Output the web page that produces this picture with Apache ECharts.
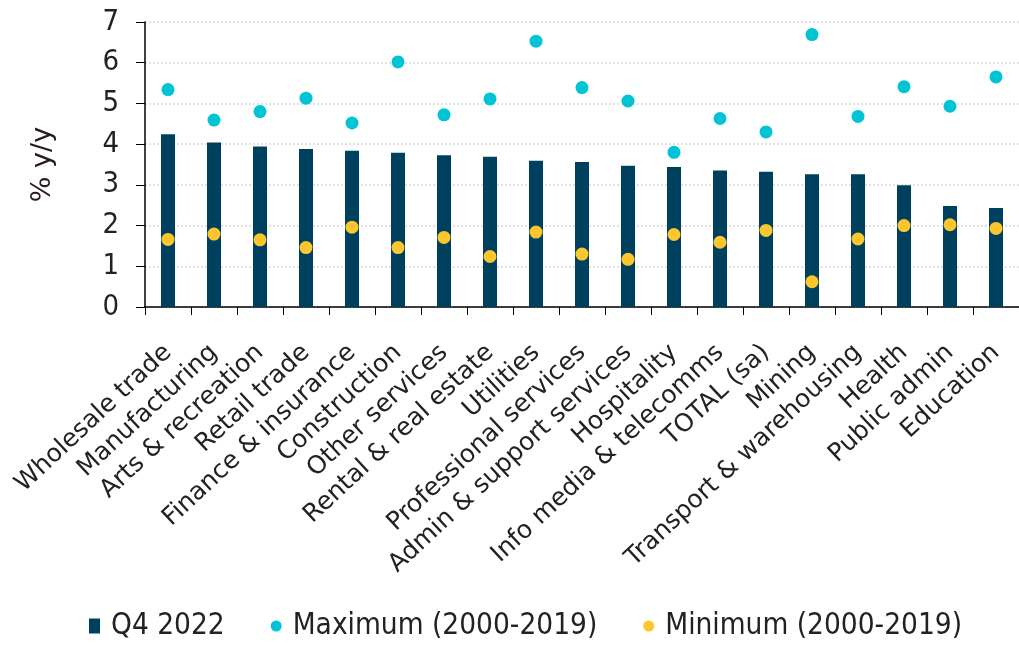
<!DOCTYPE html>
<html>
<head>
<meta charset="utf-8">
<script src="https://cdn.jsdelivr.net/npm/echarts@6/dist/echarts.min.js"></script>
<style>
  html, body { margin: 0; padding: 0; background: #fff; }
  #chart { width: 1019px; height: 650px; }
</style>
</head>
<body>
<div id="chart"></div>
<script>
// Sectors, ordered by Q4 2022 growth
const categories = [
  'Wholesale trade', 'Manufacturing', 'Arts & recreation', 'Retail trade',
  'Finance & insurance', 'Construction', 'Other services', 'Rental & real estate',
  'Utilities', 'Professional services', 'Admin & support services', 'Hospitality',
  'Info media & telecomms', 'TOTAL (sa)', 'Mining', 'Transport & warehousing',
  'Health', 'Public admin', 'Education'
];

// % y/y
const q4_2022 = [4.24, 4.04, 3.94, 3.88, 3.84, 3.79, 3.73, 3.69, 3.59, 3.56,
                 3.47, 3.44, 3.35, 3.32, 3.26, 3.26, 2.99, 2.48, 2.43];
const maximum = [5.34, 4.59, 4.80, 5.13, 4.52, 6.02, 4.72, 5.11, 6.53, 5.39,
                 5.06, 3.80, 4.63, 4.30, 6.69, 4.68, 5.41, 4.93, 5.65];
const minimum = [1.66, 1.79, 1.65, 1.46, 1.96, 1.46, 1.71, 1.24, 1.84, 1.30,
                 1.17, 1.78, 1.59, 1.88, 0.62, 1.67, 2.00, 2.02, 1.93];

const seriesNames = ['Q4 2022', 'Maximum (2000-2019)', 'Minimum (2000-2019)'];
const yTicks = { min: 0, max: 7, interval: 1 };

const FONT = '"DejaVu Sans", Verdana, sans-serif';
const FONT_NARROW = '"DejaVu Sans Condensed", "DejaVu Sans", sans-serif';
const TEXT = '#222222';

const chart = echarts.init(document.getElementById('chart'), null, { renderer: 'canvas' });

chart.setOption({
  backgroundColor: '#ffffff',
  animation: false,
  grid: { left: 145, right: -8, top: 22, bottom: 343, containLabel: false },
  legend: {
    bottom: 4,
    left: 84,
    itemGap: 46,
    itemWidth: 11,
    itemHeight: 15,
    textStyle: { fontFamily: FONT_NARROW, fontSize: 29.5, color: TEXT, padding: [0, 0, 0, 6] },
    data: [
      { name: seriesNames[0], icon: 'rect' },
      { name: seriesNames[1], icon: 'circle' },
      { name: seriesNames[2], icon: 'circle' }
    ]
  },
  xAxis: {
    type: 'category',
    data: categories,
    axisLine: { show: true, lineStyle: { color: '#000', width: 1.5 } },
    axisTick: { show: true, length: 8, lineStyle: { color: '#000' } },
    axisLabel: {
      rotate: 43,
      interval: 0,
      margin: 42,
      fontFamily: FONT,
      fontSize: 25,
      color: TEXT
    }
  },
  yAxis: {
    type: 'value',
    min: yTicks.min,
    max: yTicks.max,
    interval: yTicks.interval,
    name: '% y/y',
    nameLocation: 'middle',
    nameGap: 89,
    nameTextStyle: { fontFamily: FONT, fontSize: 27, color: '#2a1a1a' },
    axisLine: { show: true, lineStyle: { color: '#000', width: 1.5 } },
    axisTick: { show: true, length: 9, lineStyle: { color: '#000' } },
    axisLabel: { margin: 26, fontFamily: FONT_NARROW, fontSize: 29, color: TEXT },
    splitLine: { show: true, lineStyle: { color: '#d9d9d9', type: [2, 2], width: 1.5 } }
  },
  series: [
    {
      name: seriesNames[0],
      type: 'bar',
      data: q4_2022,
      barWidth: 14,
      itemStyle: { color: '#00405f' },
      z: 2
    },
    {
      name: seriesNames[1],
      type: 'scatter',
      data: maximum,
      symbol: 'circle',
      symbolSize: 13,
      itemStyle: { color: '#00c3d6', opacity: 1 },
      z: 3
    },
    {
      name: seriesNames[2],
      type: 'scatter',
      data: minimum,
      symbol: 'circle',
      symbolSize: 13,
      itemStyle: { color: '#fcc72c', opacity: 1 },
      z: 3
    }
  ]
});
</script>
</body>
</html>
